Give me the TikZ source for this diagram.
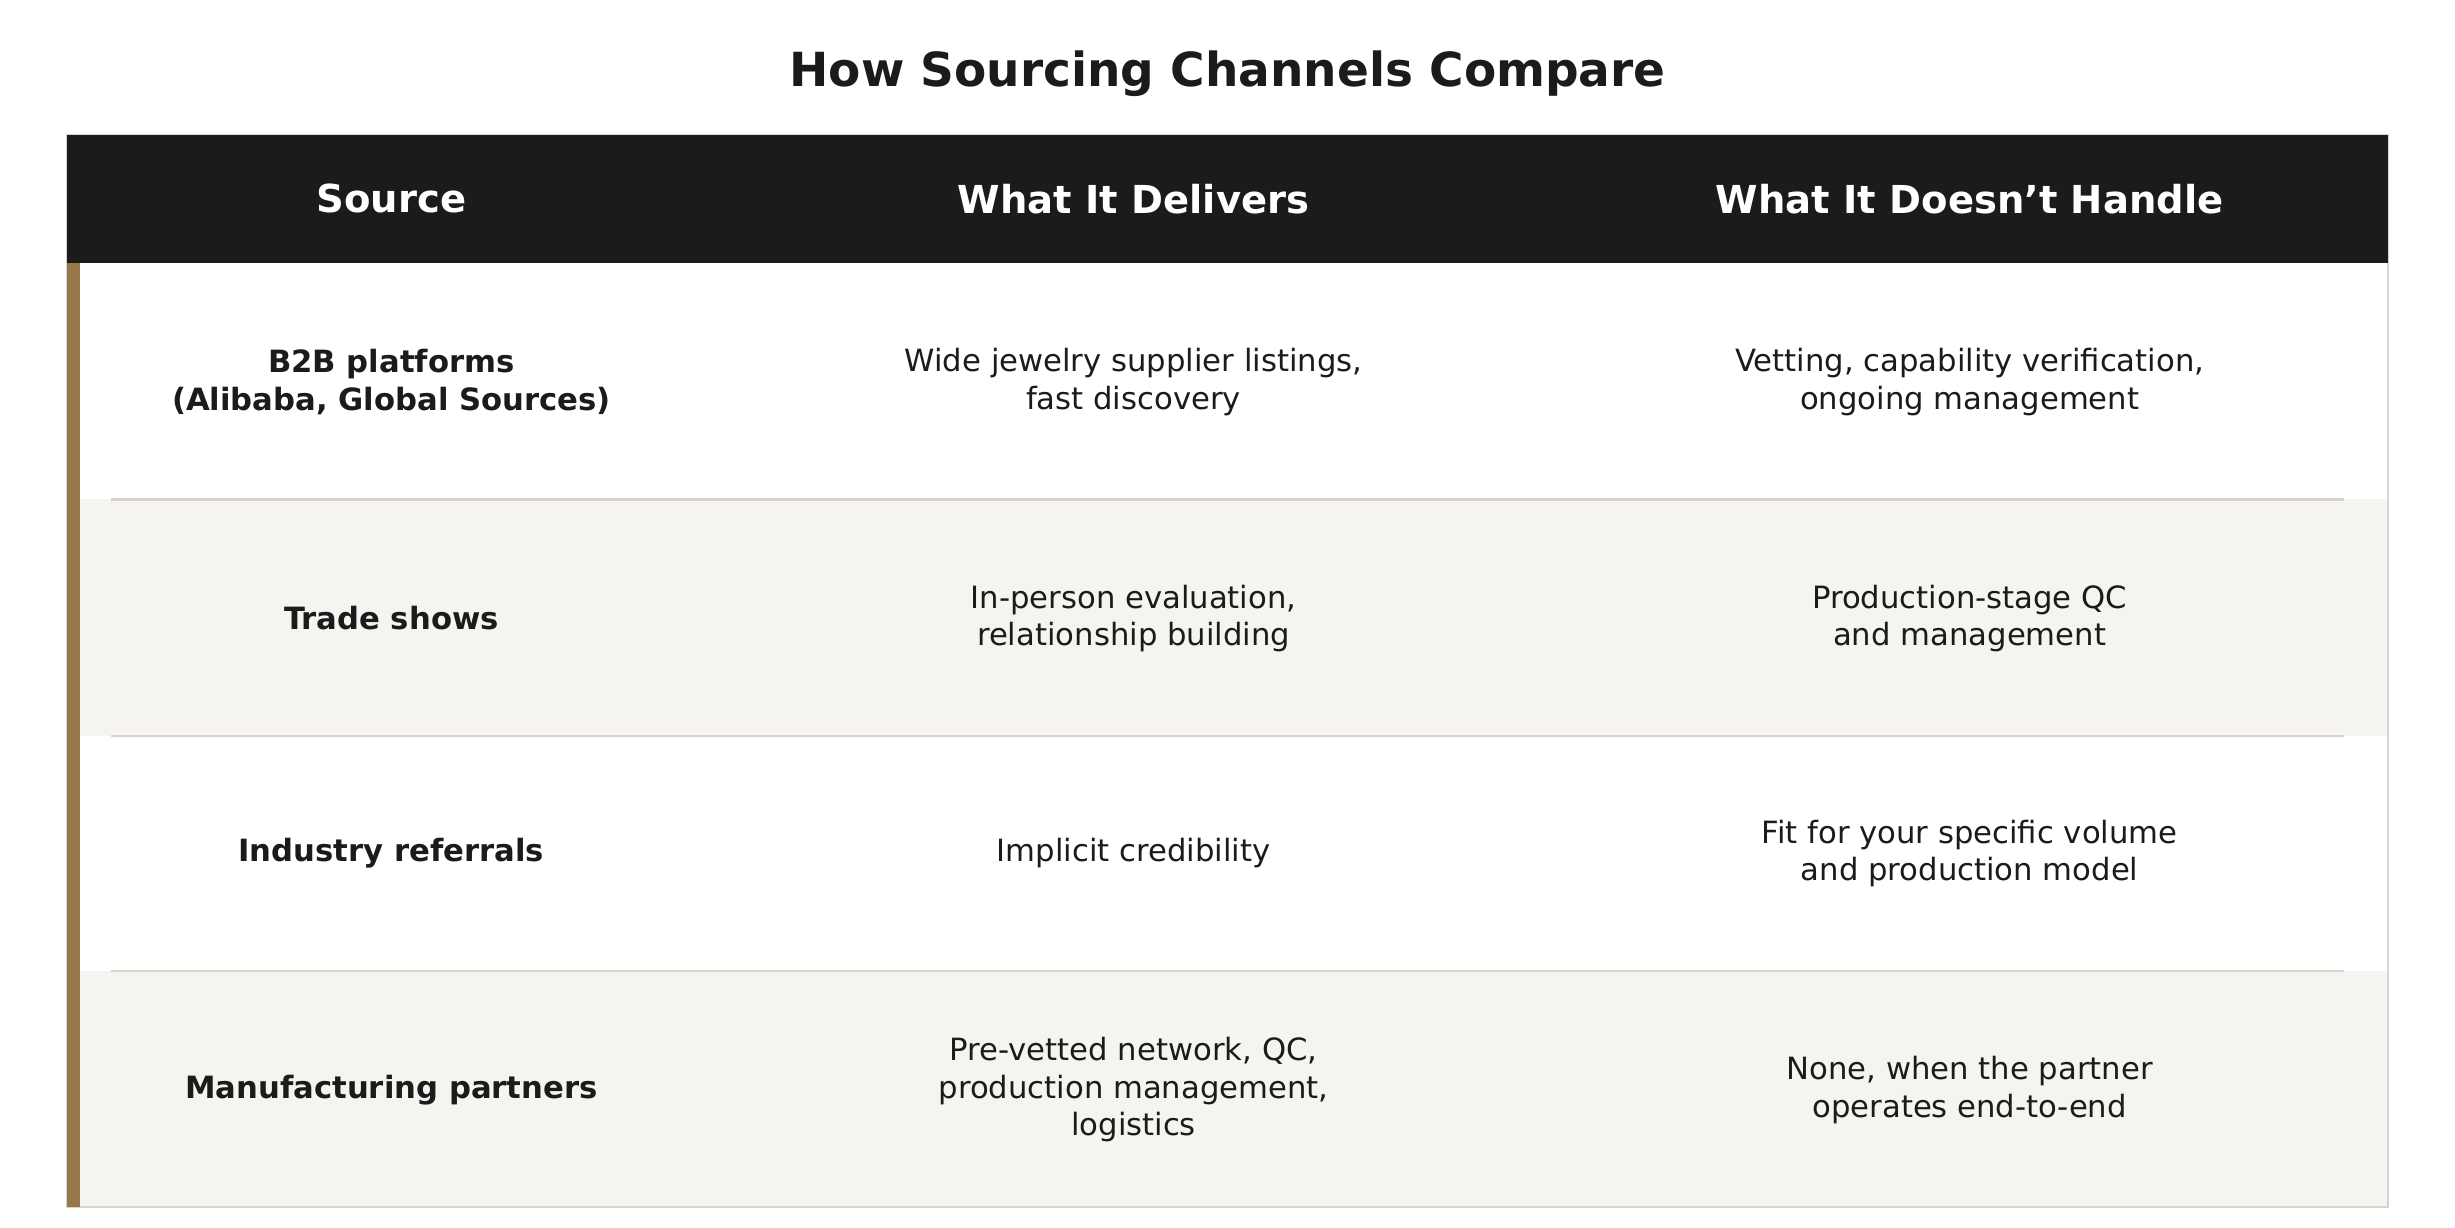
\documentclass[tikz,border=0pt]{standalone}
\usepackage{fontspec}
\setmainfont{DejaVu Sans}
\definecolor{hdr}{HTML}{1B1B1B}
\definecolor{alt}{HTML}{F5F4F0}
\definecolor{brown}{HTML}{98784A}
\definecolor{sep}{HTML}{D8D4CC}
\definecolor{txt}{HTML}{1B1B1B}
\begin{document}
\begin{tikzpicture}[x=0.5pt,y=-0.5pt,
  cell/.style={align=center,text=txt,font=\fontsize{9.8}{12}\selectfont},
  src/.style={cell,font=\fontsize{9.8}{12}\selectfont\bfseries},
  head/.style={align=center,text=white,font=\fontsize{12.3}{14}\selectfont\bfseries}]
\useasboundingbox (0,0) rectangle (1568,784);
\fill[white] (0,0) rectangle (1568,784);
\node[text=txt,font=\fontsize{15}{18}\selectfont\bfseries] (title) at (784,47) {How Sourcing Channels Compare};
\fill[alt] (43,319) rectangle (1525,470);
\fill[alt] (43,620) rectangle (1525,771);
\draw[sep,line width=0.6pt] (43,86) rectangle (1525,771);
\fill[hdr] (43,86) rectangle (1525,168);
\fill[brown] (43,168) rectangle (51,771);
\foreach \y in {319,470,620} \draw[sep,line width=0.8pt] (71,\y) -- (1497,\y);
\node[head] (h1) at (250,127) {Source};
\node[head] (h2) at (724,127) {What It Delivers};
\node[head] (h3) at (1258,127) {What It Doesn't Handle};
\node[src] (s1) at (250,244) {B2B platforms\\(Alibaba, Global Sources)};
\node[cell] (d1) at (724,244) {Wide jewelry supplier listings,\\fast discovery};
\node[cell] (n1) at (1258,244) {Vetting, capability verification,\\ongoing management};
\node[src] (s2) at (250,395) {Trade shows};
\node[cell] (d2) at (724,395) {In-person evaluation,\\relationship building};
\node[cell] (n2) at (1258,395) {Production-stage QC\\and management};
\node[src] (s3) at (250,545) {Industry referrals};
\node[cell] (d3) at (724,545) {Implicit credibility};
\node[cell] (n3) at (1258,545) {Fit for your specific volume\\and production model};
\node[src] (s4) at (250,696) {Manufacturing partners};
\node[cell] (d4) at (724,696) {Pre-vetted network, QC,\\production management,\\logistics};
\node[cell] (n4) at (1258,696) {None, when the partner\\operates end-to-end};
\end{tikzpicture}
\end{document}
